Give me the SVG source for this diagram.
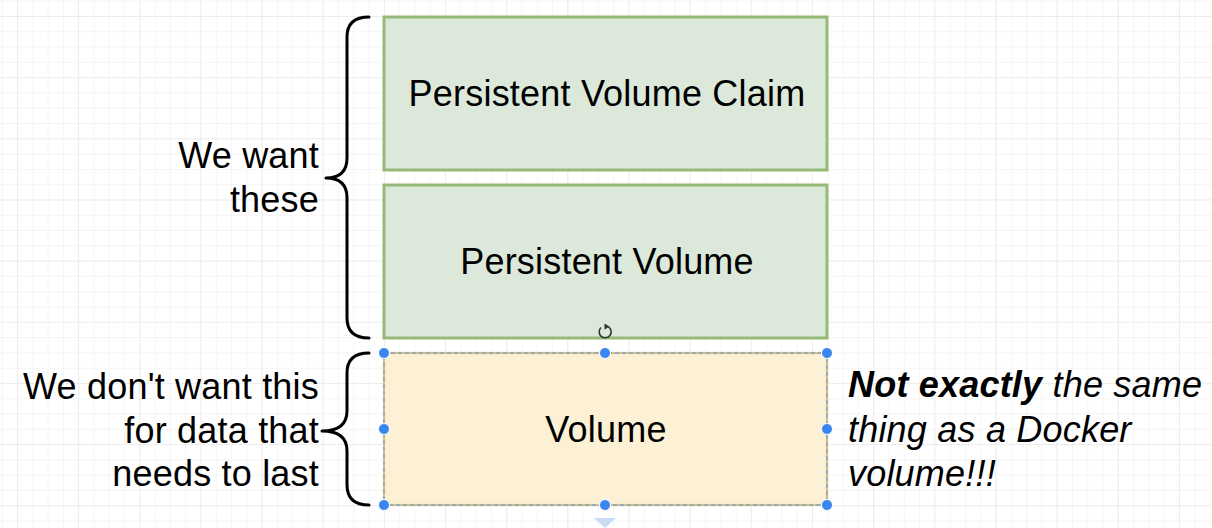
<svg xmlns="http://www.w3.org/2000/svg" width="1212" height="528" viewBox="0 0 1212 528">
<defs>
<pattern id="minor" x="17" y="16" width="15.29" height="15.29" patternUnits="userSpaceOnUse">
<path d="M0 0H15.29M0 0V15.29" fill="none" stroke="#f1f1f1" stroke-width="1.2"/>
</pattern>
<pattern id="major" x="17" y="16" width="61.15" height="61.15" patternUnits="userSpaceOnUse">
<path d="M0 0H61.15M0 0V61.15" fill="none" stroke="#e6e6e6" stroke-width="1.2"/>
</pattern>
</defs>
<style>
.t{font-family:"Liberation Sans",Arial,sans-serif;font-size:36px;letter-spacing:0.2px;fill:#000}
.g{fill:#dce8da;stroke:#96ba78;stroke-width:3}
.brace{fill:none;stroke:#000;stroke-width:3;stroke-linecap:round;stroke-linejoin:round}
.h{fill:#3a86f0;stroke:#fff;stroke-width:1}
</style>
<rect width="1212" height="528" fill="#fff"/>
<rect width="1212" height="528" fill="url(#minor)"/>
<rect width="1212" height="528" fill="url(#major)"/>

<g id="connectors">
<path class="brace" d="M369,17 Q347,17 347,37 L347,158 Q347,178 326,178 Q347,178 347,198 L347,318 Q347,338 369,338"/>
<path class="brace" d="M369,353 Q347,353 347,373 L347,411 Q347,431 322,431 Q347,431 347,451 L347,485 Q347,505 369,505"/>
</g>

<g id="pvc">
<rect class="g" x="384" y="17" width="443" height="153"/>
<text class="t" x="607" y="106" text-anchor="middle">Persistent Volume Claim</text>
</g>
<g id="pv">
<rect class="g" x="384" y="185" width="443" height="153"/>
<text class="t" x="607" y="274" text-anchor="middle">Persistent Volume</text>
</g>
<g id="volume">
<rect x="384" y="353" width="443" height="152" fill="#fdf1d5" stroke="#d6c089" stroke-width="2.2"/>
<rect x="384" y="353" width="443" height="152" fill="none" stroke="#86a3c2" stroke-width="1.3" stroke-dasharray="4 3"/>
<text class="t" x="606" y="442" text-anchor="middle">Volume</text>
</g>

<g id="selection">
<circle class="h" cx="384" cy="353" r="5.5"/>
<circle class="h" cx="605" cy="353" r="5.5"/>
<circle class="h" cx="827" cy="353" r="5.5"/>
<circle class="h" cx="384" cy="429" r="5.5"/>
<circle class="h" cx="827" cy="429" r="5.5"/>
<circle class="h" cx="384" cy="505" r="5.5"/>
<circle class="h" cx="605" cy="505" r="5.5"/>
<circle class="h" cx="827" cy="505" r="5.5"/>
<path d="M608.5,326.8 A6,6 0 1 1 601,327.5" fill="none" stroke="#333" stroke-width="1.6"/>
<path d="M604.5,323.5 L609.5,326.5 L604.5,329.8 Z" fill="#333"/>
<path d="M594,518 L616,518 L605,528 Z" fill="#c9ddf7"/>
</g>

<g id="want">
<text class="t" x="319" y="168" text-anchor="end">We want</text>
<text class="t" x="319" y="212" text-anchor="end">these</text>
</g>
<g id="dontwant">
<text class="t" x="319" y="399" text-anchor="end">We don't want this</text>
<text class="t" x="319" y="443" text-anchor="end">for data that</text>
<text class="t" x="319" y="486" text-anchor="end">needs to last</text>
</g>
<g id="note">
<text class="t" x="848" y="397" font-style="italic"><tspan font-weight="bold">Not exactly</tspan> the same</text>
<text class="t" x="848" y="442" font-style="italic">thing as a Docker</text>
<text class="t" x="848" y="486" font-style="italic">volume!!!</text>
</g>
</svg>
